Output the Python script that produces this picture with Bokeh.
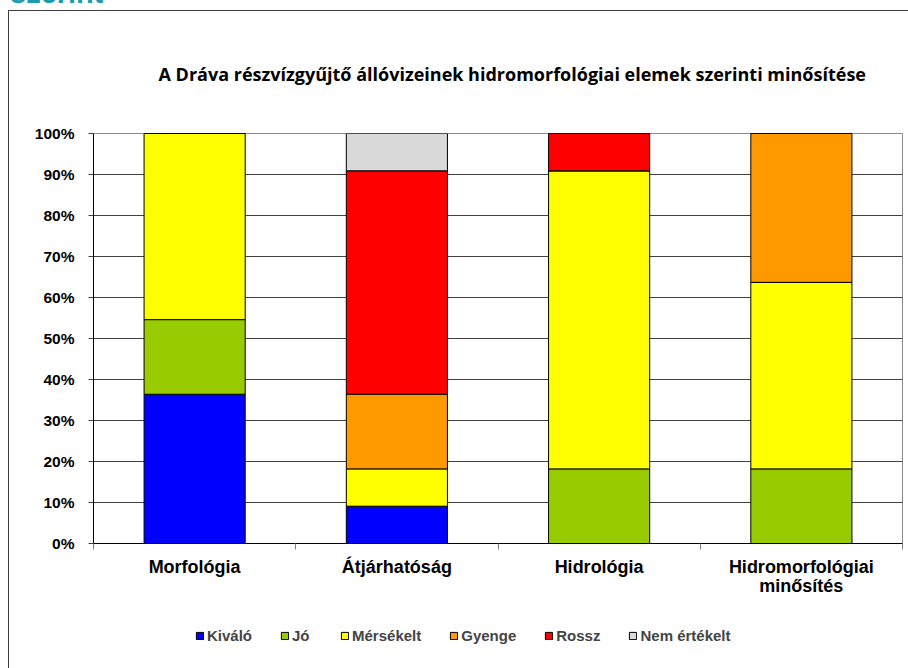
from bokeh.plotting import figure
from bokeh.models import (LinearAxis, FixedTicker, Legend, LegendItem, Div, Title)
from bokeh.layouts import column
from bokeh.embed import file_html
from bokeh.resources import INLINE

# Hydromorphological status of standing waters in the Dráva sub-basin (% of water bodies)
categories = ["Morfológia", "Átjárhatóság", "Hidrológia", "Hidromorfológiai\nminősítés"]
classes = ["Kiváló", "Jó", "Mérsékelt", "Gyenge", "Rossz", "Nem értékelt"]
kivalo = [36.4, 9.1, 0.0, 0.0]
jo = [18.2, 0.0, 18.2, 18.2]
merseklet = [45.4, 9.1, 72.7, 45.5]
gyenge = [0.0, 18.2, 0.0, 36.3]
rossz = [0.0, 54.5, 9.1, 0.0]
nem_ertekelt = [0.0, 9.1, 0.0, 0.0]
y_ticks = [0, 10, 20, 30, 40, 50, 60, 70, 80, 90, 100]
title_text = "A Dráva részvízgyűjtő állóvizeinek hidromorfológiai elemek szerinti  minősítése"

colors = ["#0000FF", "#99CC00", "#FFFF00", "#FF9900", "#FF0000", "#D9D9D9"]
series = [kivalo, jo, merseklet, gyenge, rossz, nem_ertekelt]

FONT = "Liberation Sans"
EDGE = "1px solid #404040"
BORDER_L, BORDER_R = 84, 7

xs = [i + 0.5 for i in range(len(categories))]
data = {"x": xs}
for name, vals in zip(classes, series):
    data[name] = vals

# ---- main chart -------------------------------------------------------
p = figure(width=900, height=600, x_range=(0, len(categories)), y_range=(0, 100),
           output_backend="svg", toolbar_location=None, x_axis_type=None,
           min_border_left=BORDER_L, min_border_right=BORDER_R, min_border_top=122,
           min_border_bottom=68)
p.margin = (0, 0, 0, 8)
p.styles = {"border-left": EDGE, "border-top": EDGE}
p.outline_line_color = "#8c8c8c"
p.xgrid.visible = False
p.ygrid.grid_line_color = "#404040"
p.ygrid.ticker = FixedTicker(ticks=y_ticks)

p.vbar_stack(classes, x="x", width=0.5, source=data, color=colors,
             line_color="black", line_width=1)

yax = p.yaxis[0]
yax.ticker = FixedTicker(ticks=y_ticks)
yax.major_label_overrides = {t: f"{t}%" for t in y_ticks}
yax.major_label_text_font = FONT
yax.major_label_text_font_style = "bold"
yax.major_label_text_font_size = "15.5px"
yax.major_label_text_color = "black"
yax.major_tick_in = 0
yax.major_tick_out = 5
yax.minor_tick_line_color = None
yax.major_tick_line_color = "#404040"
yax.axis_line_color = "black"
yax.major_label_standoff = 14

# boundary ticks between the categories
xb = LinearAxis(ticker=FixedTicker(ticks=list(range(len(categories) + 1))))
xb.major_label_overrides = {i: "" for i in range(len(categories) + 1)}
xb.major_tick_in = 0
xb.major_tick_out = 6
xb.major_tick_line_color = "#808080"
xb.minor_tick_line_color = None
xb.axis_line_color = "black"
xb.major_label_text_font_size = "1px"
xb.major_label_standoff = 0
p.add_layout(xb, "below")

# category names centred under the bars
xl = LinearAxis(ticker=FixedTicker(ticks=xs))
xl.major_label_overrides = {x: c for x, c in zip(xs, categories)}
xl.major_tick_line_color = None
xl.minor_tick_line_color = None
xl.axis_line_color = None
xl.major_label_text_font = FONT
xl.major_label_text_font_style = "bold"
xl.major_label_text_font_size = "18px"
xl.major_label_text_color = "black"
xl.major_label_text_line_height = 0.95
xl.major_label_standoff = 1
p.add_layout(xl, "below")

title = Title(text=title_text, align="left", offset=65, standoff=95,
              text_font="Open Sans", text_font_style="bold", text_font_size="18px",
              text_color="black")
p.add_layout(title, "above")

# ---- legend strip (same side borders so the frames line up) -----------
# the swatch renderers sit outside the visible ranges; only their legend entries show
lf = figure(width=900, height=58, x_range=(10, 11), y_range=(500, 600),
            output_backend="svg", toolbar_location=None,
            x_axis_type=None, y_axis_type=None,
            min_border_left=BORDER_L, min_border_right=BORDER_R,
            min_border_top=0, min_border_bottom=0)
lf.margin = (0, 0, 0, 8)
lf.styles = {"border-left": EDGE}
lf.outline_line_color = None
lf.background_fill_color = None
swatches = lf.vbar_stack(classes, x="x", width=0.5, source=data, color=colors,
                         line_color="black", line_width=1)

legend = Legend(items=[LegendItem(label=c, renderers=[r]) for c, r in zip(classes, swatches)],
                orientation="horizontal", location=(102, 24))
legend.label_text_font = FONT
legend.label_text_font_style = "bold"
legend.label_text_font_size = "15px"
legend.glyph_width = 9
legend.glyph_height = 9
legend.label_standoff = 3
legend.spacing = 28
legend.border_line_color = None
legend.background_fill_alpha = 0
lf.add_layout(legend, "center")

head = Div(text='<div style="position:relative; top:-21px; left:10px; white-space:nowrap;">szerint</div>',
           width=908, height=10, margin=0,
           styles={"overflow": "hidden", "color": "#1A9BB0", "font-family": FONT,
                   "font-weight": "bold", "font-size": "29px", "line-height": "29px"})

layout = column(head, p, lf, spacing=0)

open("out.html", "w").write(file_html(layout, INLINE))
